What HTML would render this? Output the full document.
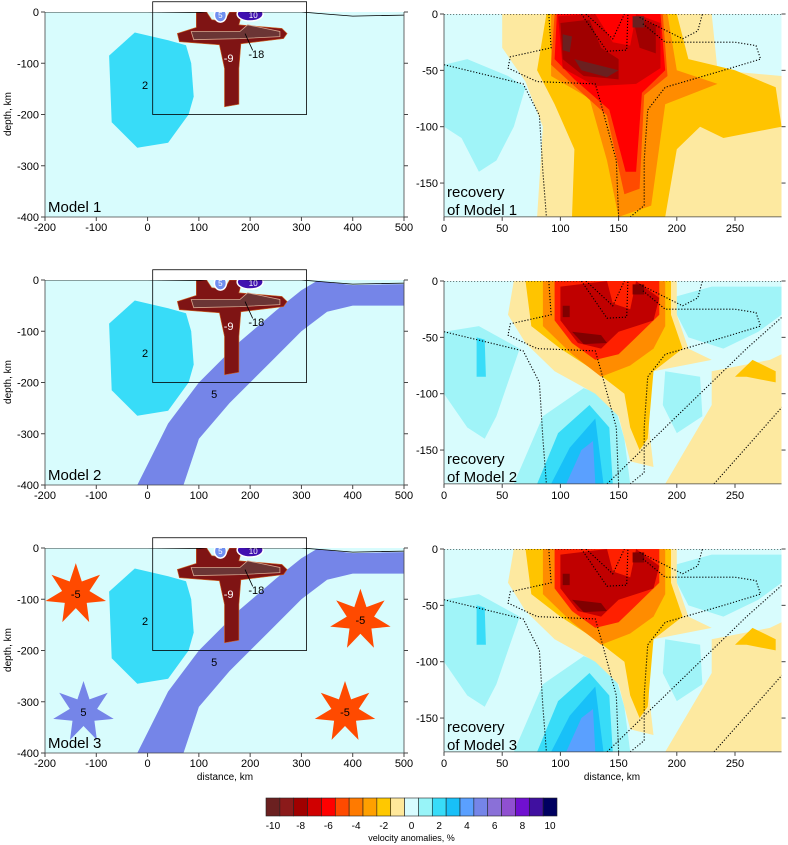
<!DOCTYPE html>
<html><head><meta charset="utf-8"><style>
html,body{margin:0;padding:0;background:#fff}
svg{display:block;font-family:"Liberation Sans",sans-serif}
</style></head><body>
<svg id="fig" width="788" height="845" viewBox="0 0 788 845" xmlns="http://www.w3.org/2000/svg"></svg>
<script>
const NS="http://www.w3.org/2000/svg";
const svg=document.getElementById('fig');
// ---- data arrays ----
const leftXTicks=[-200,-100,0,100,200,300,400,500];
const leftYTicks=[0,-100,-200,-300,-400];
const rightXTicks=[0,50,100,150,200,250];
const rightYTicks=[0,-50,-100,-150];
const cbValues=[-10,-9,-8,-7,-6,-5,-4,-3,-2,-1,0,1,2,3,4,5,6,7,8,9,10];
const cbColors=["#6b2020","#8b1a1a","#a00000","#d00000","#ff0000","#ff4a00","#ff7a00","#ffa000","#ffc800","#ffe89a","#d8fcff","#98f4f8","#38dcf8","#18c0f8","#5aa0ff","#7585e8","#8a70d8","#9050d0","#7010d0","#4010a0","#000060"];
const cbLabels=[-10,-8,-6,-4,-2,0,2,4,6,8,10];
const leftTops=[12,280,548];
const rightTops=[14,281,549];
const blob2=[[-75,-85],[-25,-40],[40,-55],[75,-65],[85,-100],[90,-165],[80,-200],[40,-255],[-20,-265],[-70,-215]];
const tShape=[[95,0],[115,0],[125,-15],[150,-18],[160,0],[185,0],[178,-25],[262,-32],[272,-42],[265,-52],[182,-62],[178,-110],[178,-180],[150,-185],[150,-110],[140,-64],[62,-58],[58,-42],[95,-30]];
const tInner=[[85,-38],[180,-38],[195,-25],[258,-38],[258,-48],[180,-52],[90,-54]];
const slab=[[330,-2],[400,-10],[500,-8],[500,-50],[400,-50],[350,-62],[300,-100],[240,-160],[160,-240],[100,-310],[70,-400],[-20,-400],[0,-360],[40,-280],[100,-200],[180,-120],[250,-60],[300,-20]];
const topo=[[-200,0],[0,0],[100,-1],[120,1],[170,2],[200,0],[300,0],[350,-4],[400,-8],[500,-6]];
const stars=[[-140,-90,-5],[415,-140,-5],[385,-320,-5],[-125,-320,5]];
const dotted=[
 [[0,-45],[40,-55],[68,-62],[82,-90],[85,-140],[88,-180]],
 [[90,0],[92,-30],[57,-38],[55,-48],[80,-60],[130,-62],[135,-80],[148,-130],[150,-180]],
 [[160,-180],[172,-170],[172,-130],[175,-85],[190,-65],[240,-50],[272,-40],[268,-28],[250,-25],[190,-25],[170,-8]],
 [[122,0],[145,-22],[155,0]],[[118,0],[140,-33],[157,-32],[158,0]],
 [[168,-3],[205,-22],[218,-15],[222,0]],
 [[0,0],[100,0],[170,1],[200,0],[290,0]]
];
const slabDots=[[[140,-180],[200,-120],[260,-60],[298,-25]],[[232,-180],[292,-110]]];
const rec1=[
 ["#a0f4f8",[[0,-45],[20,-40],[55,-55],[70,-65],[60,-100],[45,-130],[30,-140],[15,-110],[0,-100]]],
 ["#fde9a0",[[50,0],[230,0],[235,-50],[290,-55],[290,-180],[80,-180],[85,-100],[70,-60],[50,-30]]],
 ["#ffc400",[[88,0],[200,0],[210,-40],[250,-50],[285,-65],[290,-100],[240,-110],[220,-100],[200,-120],[190,-180],[110,-180],[112,-120],[95,-80],[80,-50]]],
 ["#ff8c00",[[92,0],[192,0],[200,-50],[235,-62],[190,-80],[178,-170],[150,-180],[140,-130],[125,-75],[92,-55]]],
 ["#ff4a00",[[95,0],[188,0],[192,-55],[172,-72],[168,-155],[155,-160],[140,-90],[110,-62],[92,-45]]],
 ["#ff0000",[[97,0],[186,0],[190,-50],[170,-70],[165,-140],[156,-140],[142,-85],[112,-58],[95,-40]]],
 ["#d00000",[[98,-2],[130,0],[145,-25],[160,-28],[165,0],[186,-8],[186,-48],[165,-62],[130,-64],[102,-48]]],
 ["#a00000",[[100,-8],[125,-5],[135,-30],[150,-40],[150,-58],[120,-55],[102,-40]]],
 ["#a00000",[[162,-2],[182,-10],[182,-35],[168,-30]]],
 ["#6b2020",[[112,-40],[150,-50],[140,-56],[118,-50]]],
 ["#6b2020",[[102,-18],[110,-20],[108,-34],[102,-32]]],
 ["#6b2020",[[162,-2],[172,-2],[172,-12],[162,-12]]]
];
const rec2=[
 ["#a0f4f8",[[0,-45],[30,-40],[65,-60],[55,-90],[45,-120],[35,-140],[20,-130],[0,-100]]],
 ["#a0f4f8",[[60,-180],[85,-120],[120,-95],[145,-105],[155,-140],[160,-180]]],
 ["#a0f4f8",[[195,-15],[230,-5],[290,-5],[290,-30],[270,-45],[240,-60],[210,-50],[200,-30]]],
 ["#a0f4f8",[[190,-80],[220,-85],[222,-120],[200,-135],[188,-110]]],
 ["#38dcf8",[[28,-50],[35,-52],[36,-85],[28,-85]]],
 ["#38dcf8",[[80,-180],[98,-135],[125,-110],[142,-130],[145,-180]]],
 ["#18c0f8",[[92,-180],[108,-148],[130,-122],[137,-180]]],
 ["#5aa0ff",[[105,-180],[118,-150],[128,-142],[130,-180]]],
 ["#fde9a0",[[60,0],[200,0],[200,-30],[210,-60],[230,-70],[180,-80],[175,-120],[180,-165],[160,-160],[150,-120],[130,-100],[95,-80],[70,-55],[55,-30]]],
 ["#fde9a0",[[190,-180],[230,-110],[230,-80],[280,-70],[290,-65],[290,-180]]],
 ["#ffc400",[[70,0],[195,0],[195,-30],[205,-60],[180,-80],[175,-140],[168,-150],[160,-130],[155,-100],[130,-80],[100,-60],[75,-40]]],
 ["#ffc400",[[250,-85],[265,-70],[285,-80],[285,-90],[260,-85]]],
 ["#ff8c00",[[85,0],[190,0],[190,-40],[180,-60],[160,-75],[135,-85],[110,-65],[85,-40]]],
 ["#ff2000",[[95,0],[185,0],[185,-30],[165,-50],[150,-65],[130,-70],[110,-55],[95,-35]]],
 ["#c00000",[[100,-5],[140,0],[145,-20],[160,-25],[165,0],[185,-15],[180,-35],[165,-40],[150,-45],[135,-60],[115,-55],[100,-35]]],
 ["#800000",[[110,-45],[135,-48],[140,-55],[120,-56]]],
 ["#800000",[[102,-22],[108,-22],[108,-32],[102,-32]]],
 ["#800000",[[162,-3],[172,-3],[172,-12],[162,-12]]]
];
// ---- helpers ----
function el(tag,attrs,parent){const e=document.createElementNS(NS,tag);for(const k in attrs)e.setAttribute(k,attrs[k]);(parent||svg).appendChild(e);return e;}
function txt(s,x,y,opts,parent){const t=el('text',Object.assign({x:x,y:y,'font-size':11,fill:'#000'},opts||{}),parent);t.textContent=s;return t;}
const LX=km=>45+(km+200)*359/700;
function LY(top){return d=>top-d*205/400;}
const RX=km=>444+km*1.164;
function RY(top){return d=>top-d*1.127;}
function pts(arr,fx,fy){return arr.map(p=>fx(p[0]).toFixed(1)+','+fy(p[1]).toFixed(1)).join(' ');}

// ---- left panels ----
leftTops.forEach((top,i)=>{
  const fy=LY(top);
  const g=el('g',{});
  
  
  const cid='lc'+i;
  const cp=el('clipPath',{id:cid},g);el('rect',{x:LX(-200),y:top,width:LX(500)-LX(-200),height:205},cp);
  const inner=el('g',{'clip-path':'url(#'+cid+')'},g);
  el('rect',{x:LX(-200),y:top,width:LX(500)-LX(-200),height:205,fill:'#d8fcfd'},inner);
  const b=el('polygon',{points:pts(blob2,LX,fy),fill:'#38dcf8'},inner);
  
  
  if(i>0){const s=el('polygon',{points:pts(slab,LX,fy),fill:'#7585e8'},inner);
    
    
    txt('5',LX(130),fy(-230),{'text-anchor':'middle','font-size':11},inner);}
  if(i===2){stars.forEach(st=>{
    const cx=LX(st[0]),cy=fy(st[1]);const n=7;let p=[];
    for(let k=0;k<2*n;k++){const r=k%2?14:31;const a=-Math.PI/2+k*Math.PI/n;p.push((cx+r*Math.cos(a)).toFixed(1)+','+(cy+r*Math.sin(a)).toFixed(1));}
    const sp=el('polygon',{points:p.join(' '),fill:st[2]<0?'#ff4a00':'#7585e8'},inner);
    
    
    txt(String(st[2]),cx,cy+4,{'text-anchor':'middle'},inner);});}
  const t=el('polygon',{points:pts(tShape,LX,fy),fill:'#7f1414',stroke:'#d06020','stroke-width':0.6},inner);
  
  
  el('polygon',{points:pts(tInner,LX,fy),fill:'#6b3535',stroke:'#d8a890','stroke-width':0.8},inner);
  el('ellipse',{cx:LX(142),cy:fy(-6),rx:6,ry:7,fill:'#7090f0',stroke:'#fff','stroke-width':1.5},inner);
  el('ellipse',{cx:LX(200),cy:fy(-4),rx:13,ry:7,fill:'#4010b0',stroke:'#fff','stroke-width':1.5},inner);
  txt('5',LX(142),fy(-12),{'text-anchor':'middle',fill:'#fff','font-size':8},inner);
  txt('10',LX(206),fy(-12),{'text-anchor':'middle',fill:'#fff','font-size':8},inner);
  txt('-9',LX(158),fy(-98),{'text-anchor':'middle',fill:'#fff'},inner);
  el('line',{x1:LX(190),y1:fy(-42),x2:LX(205),y2:fy(-75),stroke:'#000','stroke-width':0.8},inner);
  txt('-18',LX(212),fy(-90),{'text-anchor':'middle'},inner);
  txt('2',LX(-5),fy(-150),{'text-anchor':'middle'},inner);
  el('polyline',{points:pts(topo,LX,fy),fill:'none',stroke:'#000','stroke-width':0.8},inner);
  el('rect',{x:LX(10),y:fy(20),width:LX(310)-LX(10),height:fy(-200)-fy(20),fill:'none',stroke:'#000','stroke-width':0.8},g);
  el('line',{x1:LX(-200),y1:top,x2:LX(-200),y2:top+205,stroke:'#444','stroke-width':0.8},g);
  el('line',{x1:LX(-200),y1:top+205,x2:LX(500),y2:top+205,stroke:'#444','stroke-width':0.8},g);
  el('line',{x1:LX(500),y1:top,x2:LX(500),y2:top+205,stroke:'#444','stroke-width':0.8},g);
  leftXTicks.forEach(v=>{el('line',{x1:LX(v),y1:top+205,x2:LX(v),y2:top+209,stroke:'#444'},g);txt(String(v),LX(v),top+219,{'text-anchor':'middle','font-size':11},g);});
  leftYTicks.forEach(v=>{el('line',{x1:LX(-200)-4,y1:fy(v),x2:LX(-200),y2:fy(v),stroke:'#444'},g);el('line',{x1:LX(500),y1:fy(v),x2:LX(500)+4,y2:fy(v),stroke:'#444'},g);txt(String(v),LX(-200)-6,fy(v)+4,{'text-anchor':'end','font-size':11},g);});
  txt('depth, km',11,top+102,{'text-anchor':'middle','font-size':10,transform:'rotate(-90 11 '+(top+102)+')'},g);
  txt('Model '+(i+1),48,top+200,{'font-size':15},g);
});
// ---- right panels ----
rightTops.forEach((top,i)=>{
  const fy=RY(top);
  const g=el('g',{});
  
  
  const cid='rc'+i;const W=RX(290)-RX(0),H=fy(-180)-top;
  const cp=el('clipPath',{id:cid},g);el('rect',{x:RX(0),y:top,width:W,height:H},cp);
  const inner=el('g',{'clip-path':'url(#'+cid+')'},g);
  el('rect',{x:RX(0),y:top,width:W,height:H,fill:'#d8fcfd'},inner);
  (i===0?rec1:rec2).forEach(L=>{el('polygon',{points:pts(L[1],RX,fy),fill:L[0]},inner);});
  dotted.forEach(d=>el('polyline',{points:pts(d,RX,fy),fill:'none',stroke:'#000','stroke-width':1.1,'stroke-dasharray':'1.2,1.8'},inner));
  if(i>0)slabDots.forEach(d=>el('polyline',{points:pts(d,RX,fy),fill:'none',stroke:'#000','stroke-width':1.1,'stroke-dasharray':'1.2,1.8'},inner));
  el('line',{x1:RX(0),y1:top,x2:RX(0),y2:top+H,stroke:'#444','stroke-width':0.8},g);
  el('line',{x1:RX(0),y1:top+H,x2:RX(290),y2:top+H,stroke:'#444','stroke-width':0.8},g);
  rightXTicks.forEach(v=>{el('line',{x1:RX(v),y1:top+H,x2:RX(v),y2:top+H+4,stroke:'#444'},g);txt(String(v),RX(v),top+H+15,{'text-anchor':'middle'},g);});
  rightYTicks.forEach(v=>{el('line',{x1:RX(0)-4,y1:fy(v),x2:RX(0),y2:fy(v),stroke:'#444'},g);el('line',{x1:RX(290),y1:fy(v),x2:RX(290)+4,y2:fy(v),stroke:'#444'},g);txt(String(v),RX(0)-6,fy(v)+4,{'text-anchor':'end'},g);});
  txt('recovery',447,top+183,{'font-size':15},g);
  txt('of Model '+(i+1),447,top+201,{'font-size':15},g);
});
txt('distance, km',225,780,{'text-anchor':'middle','font-size':10});
txt('distance, km',612,780,{'text-anchor':'middle','font-size':10});
// ---- colorbar ----
const cb=el('g',{});


const cbX0=266,cbX1=557,cw=(cbX1-cbX0)/cbValues.length;
cbValues.forEach((v,k)=>{const r=el('rect',{x:cbX0+k*cw,y:798,width:cw,height:18,fill:cbColors[k],stroke:'#222','stroke-width':0.6},cb);
  
  });
cbLabels.forEach(v=>{const k=cbValues.indexOf(v);txt(String(v),cbX0+(k+0.5)*cw,829,{'text-anchor':'middle','font-size':10},cb);});
txt('velocity anomalies, %',cbX0+(cbX1-cbX0)/2,841,{'text-anchor':'middle','font-size':9},cb);
</script>
</body></html>
